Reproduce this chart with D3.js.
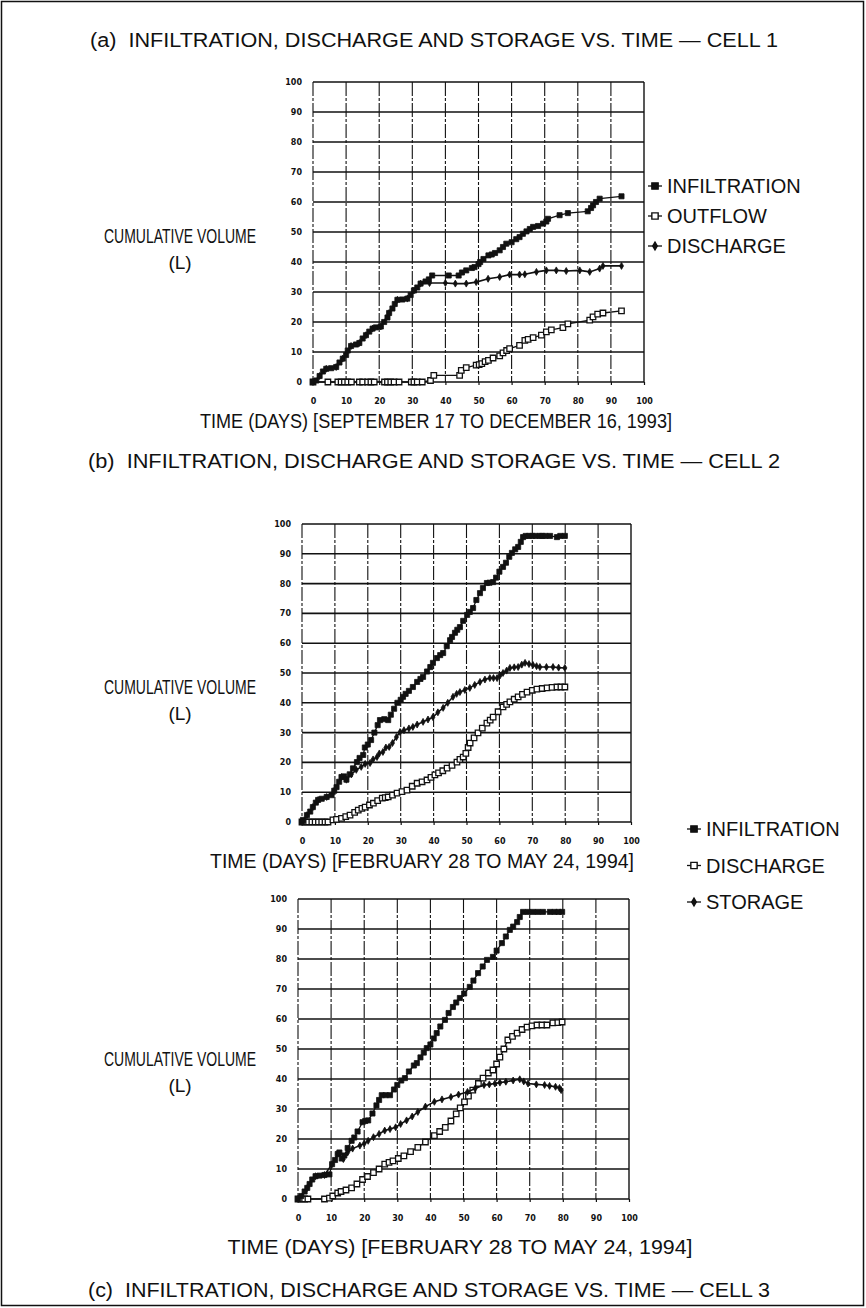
<!DOCTYPE html>
<html>
<head>
<meta charset="utf-8">
<script src="https://cdn.jsdelivr.net/npm/d3@7"></script>
<style>
body { margin: 0; background: #fff; }
svg { display: block; }
text { font-family: "Liberation Sans Narrow", "Liberation Sans", Arial, sans-serif; fill: #111; white-space: pre; }
.tick text { font-family: "DejaVu Sans", sans-serif; font-weight: bold; font-size: 8px; }
</style>
</head>
<body>
<svg id="chart" width="866" height="1308"></svg>
<script>
// ---- data: [day, litres] ----
var dayTicks = [0, 10, 20, 30, 40, 50, 60, 70, 80, 90, 100];
var volTicks = [0, 10, 20, 30, 40, 50, 60, 70, 80, 90, 100];

// cell 1
var cell1Infiltration = [[0,0],[1,0.5],[2,2],[3,3.5],[4,4.4],[5.5,4.6],[7,5],[8,6.5],[9,7.8],[10,9],[10.5,10.5],[11.5,12],[13,12.5],[14,13],[15,14.5],[16,15.6],[17,16.8],[18,17.8],[19,18.2],[20.5,18.5],[21.5,20],[22.5,21.5],[23,23],[24,24.5],[24.7,26],[25.5,27.4],[27,27.5],[28.5,27.8],[29.5,29],[30.5,30.5],[31.5,31.5],[32.5,32.8],[34,33.5],[35,34.2],[36,35.5],[41,35.5],[44,35.5],[45,36.5],[46.3,37.2],[48,38],[48.8,38.3],[50,39.3],[50.5,40],[51.5,41],[53,42.2],[54,42.5],[55,43],[56.4,43.9],[57.4,45],[58.4,46.1],[60,46.6],[61.4,47.6],[62.4,48.3],[63.4,49.4],[64.5,50.2],[65.5,51],[66.5,51.7],[68,52],[69.5,52.8],[70.5,53.5],[71,54.4],[74.5,55.6],[77,56.3],[83,56.9],[84,58],[84.6,58.9],[85.5,60],[86.6,61.1],[93.2,61.9]];
var cell1Outflow = [[0,0],[4.5,0],[7.5,0],[8.5,0],[9.5,0],[10.5,0],[11.6,0],[14,0],[15,0],[16.5,0],[17.5,0],[18.5,0],[21.6,0],[22.5,0],[23.5,0],[24.5,0],[26,0],[29.7,0],[30.5,0],[31.5,0],[33,0],[35.5,0.5],[36.5,2.2],[44.3,2.2],[44.8,3.9],[46.3,4.8],[49.3,5.6],[50.2,5.8],[51,6.1],[52,6.8],[53,7.2],[54.4,8],[56.4,8.7],[57.4,9.7],[58.5,10.5],[59.4,11.1],[62.4,12.2],[64,13.9],[65,14.2],[66.5,14.8],[69,15.6],[70.5,16.7],[72,17.4],[75.5,18.1],[77,19.4],[83.6,20.6],[84.6,21.7],[86,22.6],[87.6,23],[93.2,23.7]];
var cell1Discharge = [[0,0],[2,2],[4,4.4],[7,5],[9,7.8],[11.5,12],[14,13],[16,15.6],[18,17.8],[20.5,18.5],[23,23],[25.5,27.4],[28.5,27.8],[30.5,30.5],[32.5,32.8],[35.2,33],[40,33],[43,32.8],[46.3,32.8],[49.3,33.3],[52.9,34.4],[56.4,35],[59.4,35.8],[62.4,35.8],[64,35.9],[67.5,36.7],[70.5,37.2],[73.5,37.2],[76.5,37],[80.6,37.2],[83.6,36.7],[86.6,37.8],[87.6,38.7],[93.2,38.7]];

// cell 2
var cell2Infiltration = [[0,0],[0.3,0.7],[1.5,2.3],[2.5,3.5],[3.3,5],[4.2,6.5],[4.9,7.4],[6,7.8],[7.5,8.4],[9,9],[9.8,10.5],[10.5,11.7],[11.3,13.5],[12,15.1],[12.8,15.3],[13.5,14.2],[14.5,16],[15.5,18],[16.7,20.1],[17.5,21.5],[18.6,22.5],[19.1,25],[20,26],[21,27.5],[22,30],[23,32.5],[23.7,34.2],[25,34.5],[26.2,34.2],[27,36],[28,38],[29,40],[30,41],[30.7,42],[31.5,43],[32.5,44],[33.7,45.3],[35,47],[36,48],[36.8,48.7],[38,50.5],[39,52],[39.8,53.4],[41,55],[42,56],[42.9,56.7],[44,59],[45,61],[45.6,62.1],[46.5,63.5],[47.2,64.5],[48,65.4],[49,67.5],[50.2,69.5],[51,70.5],[52,71.8],[53,74.5],[54.1,76.8],[55,78.5],[56.2,80.2],[57,80.3],[58.1,80.5],[59,82],[60,84],[61.1,85.6],[62,87],[63,89],[63.8,90.3],[64.8,91.5],[65.7,92.3],[66.5,94],[67.2,95.6],[68,96],[69,96],[70,96],[71,96],[72.3,96],[73,96],[74,96],[75.4,96],[77.5,95.6],[78.5,96],[79.9,96]];
var cell2Discharge = [[0,0],[1,0],[2,0],[3,0],[4,0],[5,0],[6,0],[7,0],[7.9,0],[9.4,0.7],[10.5,0.9],[12,1.2],[13.3,1.8],[14.6,2.3],[16,3.2],[17.1,4],[18.2,4.6],[19.2,5],[20.5,5.7],[21.7,6.3],[23,7.2],[24.4,8],[25.3,8.2],[26.2,8.4],[27.5,9],[28.9,9.7],[30.4,10.2],[31.9,10.7],[33.5,12],[35,13],[36.5,13.5],[38,14.1],[39.2,15],[40.4,15.8],[41.5,16.5],[42.8,17.2],[44.1,18.1],[45.6,19],[47.1,20.1],[48,21],[49,21.8],[49.8,23],[50.5,25],[51.1,26.5],[52.3,28.2],[53.5,29.9],[54.8,31.5],[56.2,33.2],[57.2,34.2],[58.1,35.2],[59.6,37],[61.1,38.6],[62.2,39.5],[63.2,40.3],[64.5,41.2],[65.7,42],[67,42.8],[68.4,43.6],[70,44.2],[71.4,44.6],[73,44.8],[74.5,45],[76,45.2],[77.5,45.3],[78.7,45.3],[79.9,45.3]];
var cell2Storage = [[0,0],[1.5,2.3],[3.3,5],[4.9,7.4],[7.5,8.4],[9.8,10.5],[12,15.1],[13.5,14.2],[15,16],[16.5,17.5],[18,18.5],[19.2,19.5],[20.7,19.8],[21.6,21],[22.8,21.8],[23.5,23],[24.6,23.5],[25.5,25],[26.5,25.2],[27.5,26.5],[28.7,28.5],[29.8,30.2],[31,30.8],[32.5,31.4],[33.7,31.9],[35,32.7],[36.8,33.6],[38.3,34.4],[39.8,35.2],[41.3,36.8],[42.9,38.3],[44.3,40],[45.9,42],[47,43],[48,43.6],[49.5,44.3],[51,45],[52.5,46],[54.1,47],[55.6,47.8],[57.1,48.3],[58.2,48.3],[59.3,48.3],[60.2,49.2],[61.1,50],[62.2,50.8],[63.2,51.7],[64.5,51.9],[65.7,52],[66.8,52.8],[67.8,53.4],[69,53],[70.2,52.7],[71.3,52.3],[72.3,52],[74.3,52],[76.3,52],[78,51.8],[79.9,51.7]];

// cell 3
var cell3Infiltration = [[0,0],[1,1],[2,2.5],[2.8,3.7],[3.5,5],[4.3,6.5],[5.3,7.6],[6.5,7.8],[8,8],[9.5,8.2],[10.3,11.6],[11.2,13],[12,15],[12.5,15.5],[13.2,13.5],[14,14.5],[15,17],[16.2,19.4],[17,20.5],[18,22.5],[19.5,25.6],[20.3,26],[21.2,26.2],[22.5,28.5],[23.7,31.2],[24.5,33],[25.3,34.6],[26.5,34.6],[27.8,34.6],[29,36.5],[30,38],[31.2,39.5],[32.3,40.3],[33.5,42.5],[35,44.5],[35.9,45.3],[37,47.2],[38,48.8],[38.9,50.3],[40,51.5],[41,53.5],[41.9,55.3],[43,57.5],[44.4,59.7],[45.5,62],[46.8,64],[47.8,65.5],[48.9,67],[50.2,68.5],[51.9,70.7],[53,72.8],[54.4,75.3],[55.8,77.5],[57.1,79.7],[58.9,80.7],[60,82.8],[61.6,85.3],[62.8,87.5],[64,89.7],[65,90.8],[66.2,92.3],[67,94],[68,95.7],[69.5,95.7],[71,95.7],[72.5,95.7],[74,95.7],[76.1,95.7],[77.5,95.7],[78.7,95.7],[79.8,95.7]];
var cell3Discharge = [[0,0],[1,0],[2,0],[3,0],[8,0],[9.5,0.3],[10.5,1],[12,2],[13,2.5],[14.5,3],[16.2,3.7],[17.8,5],[19.5,6.5],[21,7.5],[22.8,8.8],[24.5,10],[26.2,11.6],[27.5,12.2],[28.7,12.7],[30.3,13.5],[32,14.4],[34,15.8],[36.2,17.2],[38.5,19],[41.2,21.1],[42.8,22.5],[44.5,23.9],[46.2,26],[47.8,28.4],[49,30.4],[50.3,32.4],[51.5,34.3],[52.8,36.3],[54.5,38.5],[55.9,40.3],[57.5,42],[58.9,43],[60,45],[61,47.3],[62.2,50],[63.4,53],[64.8,54.2],[66.2,55.3],[67.7,56.5],[69.2,57.3],[70.7,57.7],[72.2,58],[73.7,58],[75.2,58],[77,58.7],[78.5,58.8],[79.8,59]];
var cell3Storage = [[0,0],[2.8,3.7],[5.3,7.6],[8,8],[10.3,11.6],[12,15],[13.7,13.3],[15,15.5],[16.5,16.8],[18.7,17.8],[20,18.5],[21.2,19.4],[22.8,20.6],[24.5,21.7],[26.2,22.8],[27.8,23.3],[29.5,23.9],[31,25],[32.8,26.2],[34.5,27.5],[36.2,29],[38.5,30.8],[41.2,32.4],[43.5,33.2],[46.2,34],[48.5,34.8],[51.2,35.7],[53.5,36.8],[56.2,38],[57.8,38.2],[59.5,38.5],[61,38.8],[62.8,39.1],[65,39.5],[67,39.9],[68.2,39.2],[69.5,38.5],[72,38.2],[74.5,38],[76,37.7],[77.8,37.4],[79,37],[79.5,36.3]];

var legend1 = ["INFILTRATION", "OUTFLOW", "DISCHARGE"];
var legend23 = ["INFILTRATION", "DISCHARGE", "STORAGE"];

var svg = d3.select("#chart");

// page frame
svg.append("rect")
  .attr("x", 1.5).attr("y", 1.5).attr("width", 862).attr("height", 1304)
  .attr("fill", "none").attr("stroke", "#111").attr("stroke-width", 1.5);

var sym = {
  filled: d3.symbol().type(d3.symbolSquare).size(26),
  open: d3.symbol().type(d3.symbolSquare).size(30),
  dot: d3.symbol().type(d3.symbolDiamond).size(14)
};

function drawSeries(g, x, y, data, kind) {
  var line = d3.line().x(function(d) { return x(d[0]); }).y(function(d) { return y(d[1]); });
  g.append("path").datum(data)
    .attr("d", line)
    .attr("fill", "none").attr("stroke", "#111")
    .attr("stroke-width", kind == "dot" ? 1.6 : 1.3);
  g.selectAll(null).data(data).enter().append("path")
    .attr("transform", function(d) { return "translate(" + x(d[0]) + "," + y(d[1]) + ")"; })
    .attr("d", sym[kind])
    .attr("fill", kind == "open" ? "#fff" : "#111")
    .attr("stroke", "#111")
    .attr("stroke-width", kind == "open" ? 1.3 : 0.8);
}

function panel(p) {
  var x = d3.scaleLinear().domain([0, 100]).range([p.x0, p.x1]);
  var y = d3.scaleLinear().domain([0, 100]).range([p.y0, p.y1]);
  var g = svg.append("g");

  // horizontal grid (solid)
  g.selectAll(".hg").data(volTicks).enter().append("line")
    .attr("x1", p.x0).attr("x2", p.x1)
    .attr("y1", function(d) { return y(d); }).attr("y2", function(d) { return y(d); })
    .attr("stroke", "#111").attr("stroke-width", 1.6);
  // vertical grid (broken)
  g.selectAll(".vg").data(dayTicks).enter().append("line")
    .attr("x1", function(d) { return x(d); }).attr("x2", function(d) { return x(d); })
    .attr("y1", p.y1).attr("y2", p.y0)
    .attr("stroke", "#111").attr("stroke-width", function(d) { return d == 100 ? 1.4 : 1.1; })
    .attr("stroke-dasharray", function(d) { return d == 100 ? null : "14,2,3,2"; });

  var ax = g.append("g").attr("transform", "translate(0," + p.y0 + ")")
    .call(d3.axisBottom(x).tickValues(dayTicks).tickSize(3).tickPadding(13));
  ax.select(".domain").remove();
  ax.selectAll(".tick line").attr("stroke", "#111").attr("stroke-width", 1.2);

  var ay = g.append("g").attr("transform", "translate(" + p.x0 + ",0)")
    .call(d3.axisLeft(y).tickValues(volTicks).tickSize(0).tickPadding(11));
  ay.select(".domain").remove();

  drawSeries(g, x, y, p.open, "open");
  drawSeries(g, x, y, p.dot, "dot");
  drawSeries(g, x, y, p.filled, "filled");

  // condensed axis caption: squeeze horizontally with a transform
  g.append("text").attr("transform", "translate(" + p.ylx + "," + p.yly + ") scale(0.7,1)")
    .attr("text-anchor", "middle")
    .style("font-size", "20px").text("CUMULATIVE VOLUME");
  g.append("text").attr("x", p.ylx).attr("y", p.yly + 26).attr("text-anchor", "middle")
    .style("font-size", "19px").text("(L)");
}

function legend(lx, ly, step, names) {
  var kinds = ["filled", "open", "dot"];
  var g = svg.append("g");
  names.forEach(function(n, i) {
    var cy = ly + i * step;
    g.append("line").attr("x1", lx - 7).attr("x2", lx + 7).attr("y1", cy).attr("y2", cy)
      .attr("stroke", "#111").attr("stroke-width", 1.3);
    g.append("path").attr("transform", "translate(" + lx + "," + cy + ")")
      .attr("d", kinds[i] == "dot" ? d3.symbol().type(d3.symbolDiamond).size(18)() :
        d3.symbol().type(d3.symbolSquare).size(40)())
      .attr("fill", kinds[i] == "open" ? "#fff" : "#111")
      .attr("stroke", "#111").attr("stroke-width", 1.4);
    g.append("text").attr("x", lx + 12).attr("y", cy + 7)
      .style("font-size", "20px").text(n);
  });
}

function title(txt, cx, by, w) {
  svg.append("text").attr("x", cx).attr("y", by).attr("text-anchor", "middle")
    .attr("textLength", w).attr("lengthAdjust", "spacingAndGlyphs")
    .style("font-size", "20px").text(txt);
}

// (a)
title("(a)  INFILTRATION, DISCHARGE AND STORAGE VS. TIME \u2014 CELL 1", 434, 47, 688);
panel({x0: 313, x1: 644, y0: 382, y1: 82, ylx: 180, yly: 243,
  filled: cell1Infiltration, open: cell1Outflow, dot: cell1Discharge});
legend(655, 186, 30, legend1);
title("TIME (DAYS) [SEPTEMBER 17 TO DECEMBER 16, 1993]", 436, 428, 472);

// (b)
title("(b)  INFILTRATION, DISCHARGE AND STORAGE VS. TIME \u2014 CELL 2", 434, 468, 692);
panel({x0: 302, x1: 631, y0: 822, y1: 524, ylx: 180, yly: 694,
  filled: cell2Infiltration, open: cell2Discharge, dot: cell2Storage});
title("TIME (DAYS) [FEBRUARY 28 TO MAY 24, 1994]", 422, 868, 424);
legend(694, 829, 36.5, legend23);

// (c)
panel({x0: 298, x1: 629, y0: 1199, y1: 899, ylx: 180, yly: 1066,
  filled: cell3Infiltration, open: cell3Discharge, dot: cell3Storage});
title("TIME (DAYS) [FEBRUARY 28 TO MAY 24, 1994]", 460, 1254, 465);
title("(c)  INFILTRATION, DISCHARGE AND STORAGE VS. TIME \u2014 CELL 3", 429, 1297, 682);
</script>
</body>
</html>
